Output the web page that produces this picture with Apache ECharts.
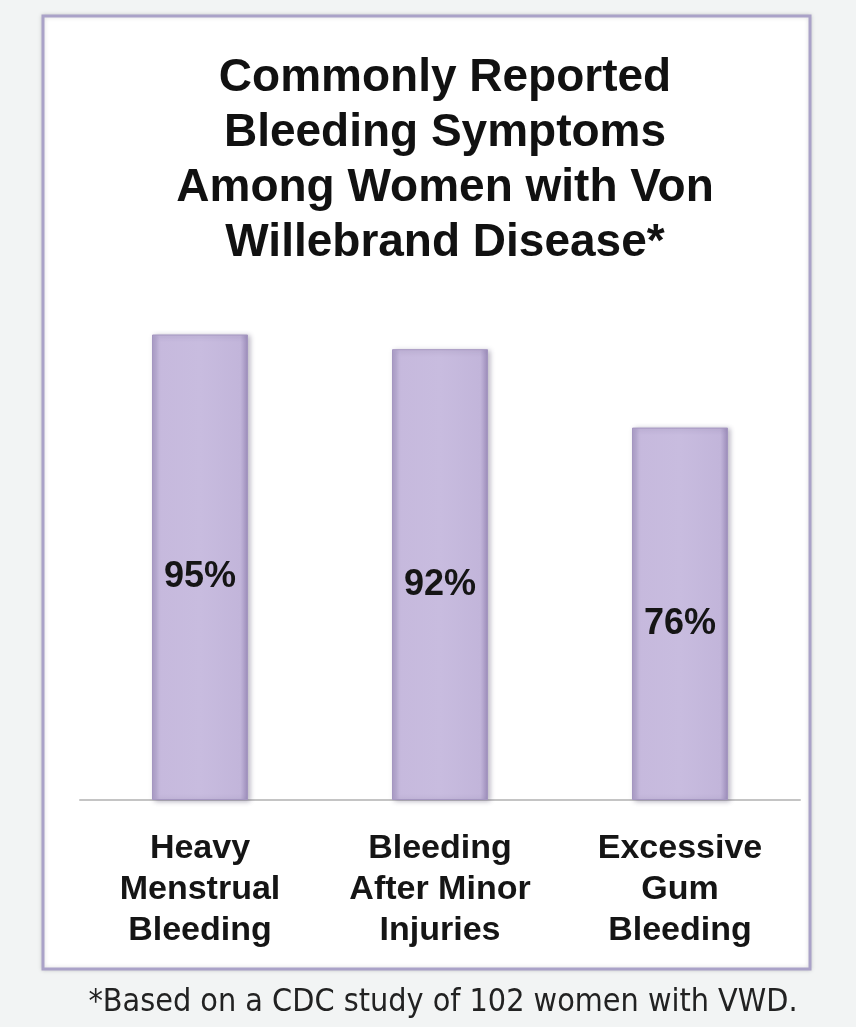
<!DOCTYPE html>
<html>
<head>
<meta charset="utf-8">
<title>Bleeding Symptoms</title>
<script src="https://cdn.jsdelivr.net/npm/echarts@6.0.0/dist/echarts.min.js"></script>
<style>
  html, body { margin: 0; padding: 0; background: #f2f4f4; }
  #main { width: 856px; height: 1027px; }
</style>
</head>
<body>
<div id="main"></div>
<script>
// data
var categories = ['Heavy\nMenstrual\nBleeding', 'Bleeding\nAfter Minor\nInjuries', 'Excessive\nGum\nBleeding'];
var percents = [95, 92, 76];
var titleText = 'Commonly Reported\nBleeding Symptoms\nAmong Women with Von\nWillebrand Disease*';
var footnote = '*Based on a CDC study of 102 women with VWD.';

var chart = echarts.init(document.getElementById('main'));

var barColor = new echarts.graphic.LinearGradient(0, 0, 1, 0, [
    { offset: 0, color: '#ad9fc9' },
    { offset: 0.08, color: '#c6b9dd' },
    { offset: 0.5, color: '#c8bcdf' },
    { offset: 0.92, color: '#c2b5da' },
    { offset: 1, color: '#9e8fbc' }
]);

var option = {
    backgroundColor: '#f2f4f4',
    animation: false,
    graphic: [
        {
            type: 'rect',
            z: -10,
            shape: { x: 43, y: 16, width: 767, height: 953 },
            style: {
                fill: '#ffffff',
                stroke: '#aaa2c8',
                lineWidth: 3,
                shadowBlur: 4,
                shadowColor: 'rgba(0,0,0,0.15)'
            }
        }
    ],
    title: [
        {
            text: titleText,
            left: 440,
            top: 46,
            textAlign: 'center',
            textStyle: {
                fontFamily: 'Liberation Sans, Arial, sans-serif',
                fontWeight: 'bold',
                fontSize: 46,
                lineHeight: 55,
                color: '#111111'
            }
        },
        {
            text: footnote,
            left: 438,
            top: 982,
            textAlign: 'center',
            textStyle: {
                fontFamily: 'Liberation Sans Narrow, DejaVu Sans Condensed, sans-serif',
                fontWeight: 'normal',
                fontSize: 32,
                color: '#222222'
            }
        }
    ],
    grid: {
        left: 80,
        right: 56,
        top: 310,
        bottom: 227
    },
    xAxis: {
        type: 'category',
        data: categories,
        axisLine: { lineStyle: { color: '#c4c4c4', width: 2 } },
        axisTick: { show: false },
        axisLabel: {
            margin: 28,
            fontFamily: 'Liberation Sans, Arial, sans-serif',
            fontWeight: 'bold',
            fontSize: 34,
            lineHeight: 41,
            color: '#151515'
        }
    },
    yAxis: {
        type: 'value',
        min: 0,
        max: 100,
        show: false,
        splitLine: { show: false }
    },
    series: [
        {
            type: 'bar',
            data: percents,
            barWidth: 96,
            itemStyle: {
                color: barColor,
                borderColor: '#a496c0',
                borderWidth: 1,
                shadowBlur: 5,
                shadowOffsetX: 2,
                shadowOffsetY: 1,
                shadowColor: 'rgba(60,50,90,0.35)'
            },
            label: {
                show: true,
                position: 'inside',
                offset: [0, 10],
                formatter: '{c}%',
                fontFamily: 'Liberation Sans, Arial, sans-serif',
                fontWeight: 'bold',
                fontSize: 36,
                color: '#151515'
            }
        }
    ]
};

option && chart.setOption(option);
</script>
</body>
</html>
